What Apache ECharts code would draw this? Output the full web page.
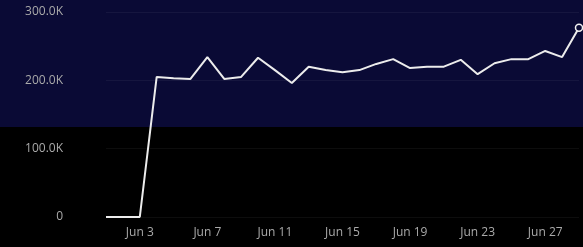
<!DOCTYPE html>
<html>
<head>
<meta charset="utf-8">
<script src="https://cdn.jsdelivr.net/npm/echarts@6/dist/echarts.min.js"></script>
<style>
  html, body { margin: 0; padding: 0; background: #000; }
  #chart { width: 583px; height: 247px; }
</style>
</head>
<body>
<div id="chart"></div>
<script>
// days shown on the x axis
var days = [
    'Jun 1', 'Jun 2', 'Jun 3', 'Jun 4', 'Jun 5', 'Jun 6', 'Jun 7', 'Jun 8', 'Jun 9', 'Jun 10',
    'Jun 11', 'Jun 12', 'Jun 13', 'Jun 14', 'Jun 15', 'Jun 16', 'Jun 17', 'Jun 18', 'Jun 19', 'Jun 20',
    'Jun 21', 'Jun 22', 'Jun 23', 'Jun 24', 'Jun 25', 'Jun 26', 'Jun 27', 'Jun 28', 'Jun 29'
];
// daily values
var values = [
    0, 0, 0, 205000, 203000, 202000, 234000, 202000, 205000, 233000,
    215000, 196000, 220000, 215000, 212000, 215000, 224000, 231000, 218000, 220000,
    220000, 230000, 209000, 225000, 231000, 231000, 243000, 234000, 277000
];
var yTicks = [0, 100000, 200000, 300000];

function fmtK(v) {
    if (v === 0) return '0';
    return (v / 1000).toFixed(1) + 'K';
}

var dom = document.getElementById('chart');
var myChart = echarts.init(dom);

var seriesData = values.map(function (v, i) {
    if (i === values.length - 1) {
        return {
            value: v,
            symbol: 'circle',
            symbolSize: 7,
            itemStyle: { color: '#0a0a35', borderColor: '#f0f0f0', borderWidth: 1.5 }
        };
    }
    return v;
});

var option = {
    backgroundColor: '#000',
    animation: false,
    graphic: [
        {
            type: 'rect',
            z: -10,
            shape: { x: 0, y: 0, width: 583, height: 127 },
            style: { fill: '#0a0a35' }
        }
    ],
    grid: { left: 106, right: 4, top: 12, bottom: 30 },
    xAxis: {
        type: 'category',
        data: days,
        boundaryGap: false,
        axisLine: { show: false },
        axisTick: { show: false },
        splitLine: { show: false },
        axisLabel: {
            color: '#aaaaaa',
            fontSize: 12,
            fontFamily: 'Open Sans',
            margin: 10,
            interval: function (idx) { return idx % 4 === 2; }
        }
    },
    yAxis: {
        type: 'value',
        min: yTicks[0],
        max: yTicks[yTicks.length - 1],
        interval: 100000,
        axisLine: { show: false },
        axisTick: { show: false },
        splitLine: { lineStyle: { color: 'rgba(255,255,255,0.05)' } },
        axisLabel: {
            color: '#aaaaaa',
            fontSize: 12,
            fontFamily: 'Open Sans',
            margin: 43,
            formatter: fmtK
        }
    },
    series: [
        {
            type: 'line',
            data: seriesData,
            symbol: 'none',
            lineStyle: { color: '#ececec', width: 2 },
            clip: false
        }
    ]
};
myChart.setOption(option);
</script>
</body>
</html>
